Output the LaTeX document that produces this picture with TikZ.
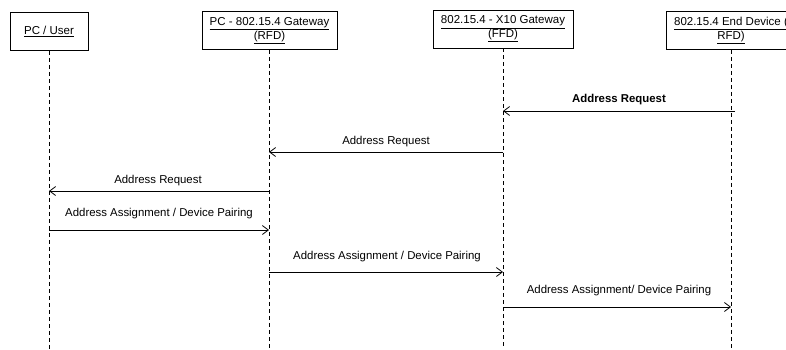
\documentclass[tikz,border=0pt]{standalone}
\usepackage{fontspec}
\setmainfont{Liberation Sans}
\usetikzlibrary{arrows.meta}
\begin{document}
\begin{tikzpicture}[x=1pt,y=-1pt,
  actor/.style={draw,line width=0.8pt,minimum height=38pt,inner sep=0pt,align=center,font=\fontsize{11.5}{12.5}\selectfont},
  life/.style={line width=0.7pt,dash pattern=on 4pt off 3pt},
  msg/.style={line width=0.8pt,-{Straight Barb[length=6pt,width=9pt]}},
  lbl/.style={font=\fontsize{11.4}{12}\selectfont,inner sep=0pt}]
\useasboundingbox (0,0) rectangle (786,349);
\clip (0,0) rectangle (786,349);
% actors
\node[actor,minimum width=78pt] (a1) at (49,31.5) {\underline{PC / User}};
\node[actor,minimum width=135pt] (a2) at (269.5,30.5) {\underline{PC - 802.15.4 Gateway}\\\underline{(RFD)}};
\node[actor,minimum width=140pt] (a3) at (503,29) {\underline{802.15.4 - X10 Gateway}\\\underline{(FFD)}};
\node[actor,minimum width=130pt] (a4) at (731,30.5) {\underline{802.15.4 End Device (}\\\underline{RFD)}};
% lifeline ends
\coordinate (e1) at (49,349);
\coordinate (e2) at (269,349);
\coordinate (e3) at (503,349);
\coordinate (e4) at (731,349);
\draw[life] (a1.south) -- (e1);
\draw[life] (a2.south -| e2) -- (e2);
\draw[life] (a3.south -| e3) -- (e3);
\draw[life] (a4.south -| e4) -- (e4);
% message points
\coordinate (m1s) at (735,111); \coordinate (m1e) at (503,111);
\coordinate (m2s) at (503,152); \coordinate (m2e) at (269,152);
\coordinate (m3s) at (269,191); \coordinate (m3e) at (49,191);
\coordinate (m4s) at (49,230);  \coordinate (m4e) at (269,230);
\coordinate (m5s) at (269,272); \coordinate (m5e) at (503,272);
\coordinate (m6s) at (503,307); \coordinate (m6e) at (731,307);
\draw[msg] (m1s) -- (m1e);
\draw[msg] (m2s) -- (m2e);
\draw[msg] (m3s) -- (m3e);
\draw[msg] (m4s) -- (m4e);
\draw[msg] (m5s) -- (m5e);
\draw[msg] (m6s) -- (m6e);
% labels
\node[lbl,font=\fontsize{11.4}{12}\selectfont\bfseries] (l1) at (619,100) {Address Request};
\node[lbl] (l2) at (386,142) {Address Request};
\node[lbl] (l3) at (158,181) {Address Request};
\node[lbl] (l4) at (159,214) {Address Assignment / Device Pairing};
\node[lbl] (l5) at (387,257) {Address Assignment / Device Pairing};
\node[lbl] (l6) at (619,291) {Address Assignment/ Device Pairing};
\end{tikzpicture}
\end{document}
